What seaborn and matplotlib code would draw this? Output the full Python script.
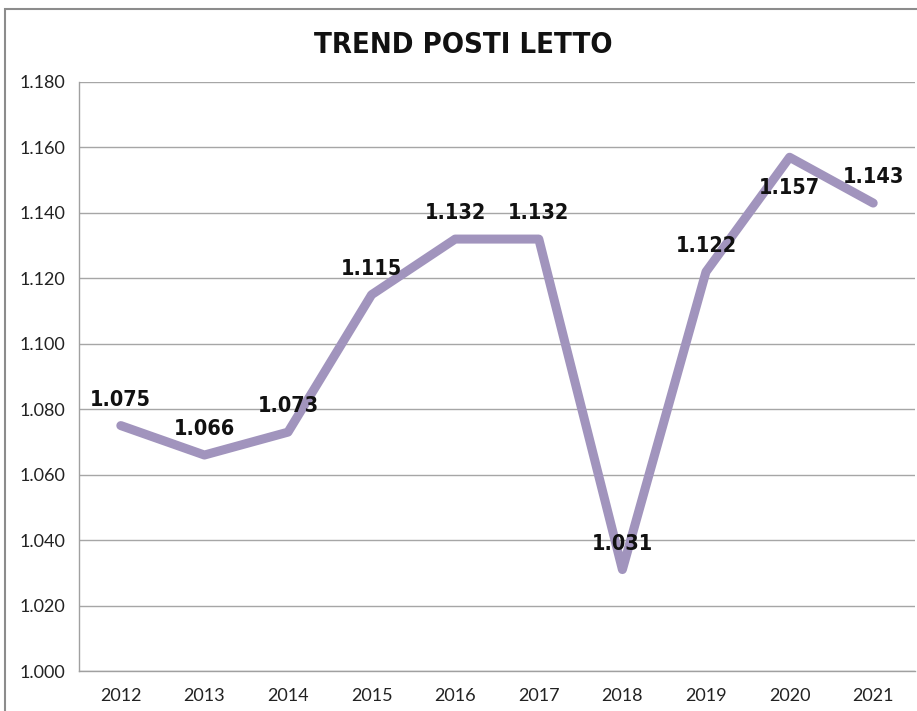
import matplotlib
matplotlib.use("Agg")
import matplotlib.pyplot as plt
from matplotlib.patches import Rectangle
import pandas as pd
import seaborn as sns

years = ['2012', '2013', '2014', '2015', '2016', '2017', '2018', '2019', '2020', '2021']
posti_letto = [1075, 1066, 1073, 1115, 1132, 1132, 1031, 1122, 1157, 1143]
y_ticks = [1000, 1020, 1040, 1060, 1080, 1100, 1120, 1140, 1160, 1180]
# label above the point, except 2020 which sits below
label_below = ['2020']


def fmt(v):
    return f"{v:,}".replace(',', '.')


def main():
    df = pd.DataFrame({'Anno': years, 'Posti': posti_letto})

    sns.set_style('white')
    plt.rcParams['font.family'] = ['DejaVu Sans']

    fig = plt.figure(figsize=(9.17, 7.11), dpi=100)
    ax = fig.add_axes([79 / 917, 1 - 671 / 711, (915 - 79) / 917, (671 - 82) / 711])

    sns.lineplot(data=df, x='Anno', y='Posti', ax=ax, color='#a194bd',
                 linewidth=6.5, sort=False)

    ax.set_xlim(-0.5, len(years) - 0.5)
    ax.set_ylim(1000, 1180)
    ax.set_yticks(y_ticks)
    ax.set_yticklabels([fmt(v) for v in y_ticks], fontsize=13, color='#222222',
                       family=['Lato', 'DejaVu Sans'])
    ax.set_xticks(range(len(years)))
    ax.set_xticklabels(years, fontsize=13, color='#222222',
                       family=['Lato', 'DejaVu Sans'])
    ax.set_xticks([i - 0.5 for i in range(len(years) + 1)], minor=True)
    ax.tick_params(axis='x', which='major', length=0, pad=12)
    ax.tick_params(axis='x', which='minor', length=6, color='#a0a0a0', direction='out')
    ax.tick_params(axis='y', length=6, color='#a0a0a0', direction='out', pad=4)
    ax.grid(axis='y', color='#a6a6a6', linewidth=1)
    ax.set_xlabel('')
    ax.set_ylabel('')
    for s in ['top', 'right']:
        ax.spines[s].set_visible(False)
    for s in ['left', 'bottom']:
        ax.spines[s].set_color('#a0a0a0')
        ax.spines[s].set_linewidth(1)

    for i, (yr, v) in enumerate(zip(years, posti_letto)):
        off = -21 if yr in label_below else 16
        va = 'top' if yr in label_below else 'bottom'
        ax.annotate(fmt(v), (i, v), xytext=(0, off), textcoords='offset pixels',
                    ha='center', va=va, fontsize=15.5, fontweight='bold',
                    fontstretch='condensed', color='#111111')

    fig.text(463 / 917, 1 - 45 / 711, 'TREND POSTI LETTO', ha='center', va='center',
             fontsize=21, fontweight='bold', fontstretch='condensed', color='#111111')

    fig.patches.append(Rectangle((5 / 917, -0.1), 1.2, 1 - 9 / 711 + 0.1,
                                 transform=fig.transFigure, fill=False,
                                 edgecolor='#8c8c8c', linewidth=1.5))

    fig.savefig('out.png', dpi=100)


if __name__ == '__main__':
    main()
